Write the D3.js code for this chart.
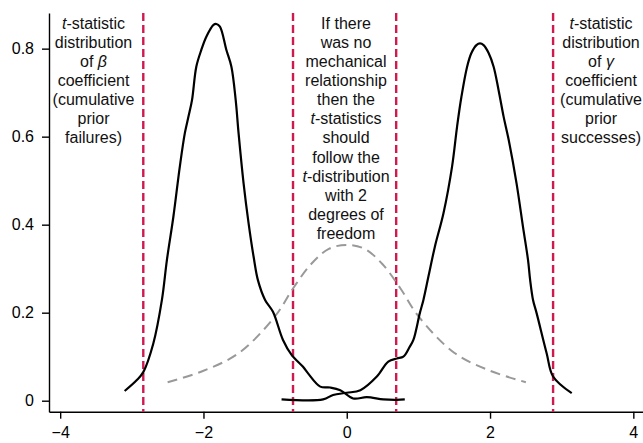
<!DOCTYPE html>
<html>
<head>
<meta charset="utf-8">
<script src="https://cdn.jsdelivr.net/npm/d3@7"></script>
<style>
  body { margin: 0; background: #fff; }
  svg { display: block; font-family: "Liberation Sans", Arial, sans-serif; }
</style>
</head>
<body>
<svg width="643" height="443"></svg>
<script>
// t-statistic density of the beta coefficient (left hump)
var betaX = [-3.10, -2.93, -2.84, -2.70, -2.58, -2.51, -2.42, -2.33, -2.26, -2.21, -2.16, -2.10, -2.03, -1.96,
  -1.86, -1.82, -1.77, -1.68, -1.61, -1.55, -1.51, -1.44, -1.37, -1.30, -1.24, -1.14, -1.03, -0.89, -0.77,
  -0.61, -0.54, -0.37, -0.23, -0.09, 0.09, 0.28, 0.51, 0.70, 0.81];
var betaY = [0.022, 0.047, 0.065, 0.130, 0.229, 0.320, 0.418, 0.532, 0.608, 0.645, 0.683, 0.759, 0.797, 0.827,
  0.854, 0.856, 0.850, 0.797, 0.759, 0.683, 0.608, 0.494, 0.403, 0.327, 0.274, 0.229, 0.202, 0.138, 0.104,
  0.077, 0.062, 0.032, 0.030, 0.024, 0.005, 0.008, 0.003, 0.002, 0.003];

// t-statistic density of the gamma coefficient (right hump)
var gammaX = [-0.91, -0.33, -0.19, 0.00, 0.19, 0.42, 0.58, 0.70, 0.79, 0.88, 0.93, 1.02, 1.07, 1.14, 1.23,
  1.35, 1.47, 1.54, 1.60, 1.68, 1.74, 1.81, 1.86, 1.91, 1.98, 2.05, 2.12, 2.19, 2.26, 2.37, 2.46, 2.53,
  2.56, 2.60, 2.65, 2.79, 2.88, 3.14];
var gammaY = [0.003, 0.003, 0.013, 0.018, 0.024, 0.055, 0.089, 0.096, 0.100, 0.123, 0.138, 0.199, 0.229,
  0.282, 0.350, 0.426, 0.532, 0.623, 0.690, 0.759, 0.790, 0.808, 0.812, 0.808, 0.790, 0.759, 0.705, 0.645,
  0.593, 0.494, 0.395, 0.320, 0.274, 0.229, 0.199, 0.108, 0.055, 0.017];

// reference t-distribution with 2 degrees of freedom (grey dashed)
var tDistX = [-2.5, -2.0, -1.5, -1.0, -0.75, -0.5, -0.25, 0, 0.25, 0.5, 0.75, 1.0, 1.5, 2.0, 2.5];
var tDistY = [0.042, 0.068, 0.109, 0.192, 0.255, 0.310, 0.345, 0.354, 0.345, 0.310, 0.255, 0.192, 0.109, 0.068, 0.042];

// red dashed marker lines
var markerX = [-2.84, -0.75, 0.69, 2.88];

var xTicks = [-4, -2, 0, 2, 4];
var yTicks = [0, 0.2, 0.4, 0.6, 0.8];

// notes, *...* marks italic
var noteLeft = ["*t*-statistic", "distribution", "of *β*", "coefficient", "(cumulative", "prior", "failures)"];
var noteMid = ["If there", "was no", "mechanical", "relationship", "then the", "*t*-statistics", "should",
  "follow the", "*t*-distribution", "with 2", "degrees of", "freedom"];
var noteRight = ["*t*-statistic", "distribution", "of *γ*", "coefficient", "(cumulative", "prior", "successes)"];

var svg = d3.select("svg");

var x = d3.scaleLinear().domain([-4.156, 4.135]).range([49, 643]);
var y = d3.scaleLinear().domain([-0.025, 0.881]).range([411.7, 13]);

// axes
var xAxis = svg.append("g")
  .attr("transform", "translate(0," + y(-0.025) + ")")
  .call(d3.axisBottom(x).tickValues(xTicks).tickSize(7).tickPadding(8).tickSizeOuter(0));
var yAxis = svg.append("g")
  .attr("transform", "translate(" + x(-4.156) + ",0)")
  .call(d3.axisLeft(y).tickValues(yTicks).tickSize(7).tickPadding(8).tickSizeOuter(0)
    .tickFormat(function (d) { return d === 0 ? "0" : d3.format(".1f")(d); }));

[xAxis, yAxis].forEach(function (g) {
  g.selectAll("path, line").attr("stroke", "#000").attr("stroke-width", 1.4);
  g.selectAll("text").attr("fill", "#000").style("font-size", "16px")
    .style("font-family", "'Liberation Sans', Arial, sans-serif");
});

// red dashed lines
svg.selectAll(".marker")
  .data(markerX)
  .enter()
  .append("line")
  .attr("class", "marker")
  .attr("x1", function (d) { return x(d); })
  .attr("x2", function (d) { return x(d); })
  .attr("y1", y(0.881))
  .attr("y2", y(-0.025))
  .attr("stroke", "#cf1a4f")
  .attr("stroke-width", 2.4)
  .attr("stroke-dasharray", "8,4");

var line = d3.line()
  .x(function (d) { return x(d[0]); })
  .y(function (d) { return y(d[1]); })
  .curve(d3.curveCatmullRom);

// grey t-distribution
svg.append("path")
  .datum(d3.zip(tDistX, tDistY))
  .attr("d", line)
  .attr("fill", "none")
  .attr("stroke", "#999")
  .attr("stroke-width", 2)
  .attr("stroke-dasharray", "10,6");

// black densities
[d3.zip(betaX, betaY), d3.zip(gammaX, gammaY)].forEach(function (pts) {
  svg.append("path")
    .datum(pts)
    .attr("d", line)
    .attr("fill", "none")
    .attr("stroke", "#000")
    .attr("stroke-width", 2.2)
    .attr("stroke-linejoin", "round");
});

// text notes
function addNote(lines, cx) {
  var t = svg.append("text")
    .attr("text-anchor", "middle")
    .style("font-size", "16px")
    .attr("fill", "#111");
  lines.forEach(function (ln, i) {
    var parts = ln.split("*");
    parts.forEach(function (p, j) {
      if (p === "") return;
      var s = t.append("tspan").text(p);
      if (j % 2 === 1) s.style("font-style", "italic");
      if (j === 0 || (j === 1 && parts[0] === "")) {
        s.attr("x", cx).attr("y", 28.8 + i * 19.1);
      }
    });
  });
}
addNote(noteLeft, 93.5);
addNote(noteMid, 346);
addNote(noteRight, 601);
</script>
</body>
</html>
